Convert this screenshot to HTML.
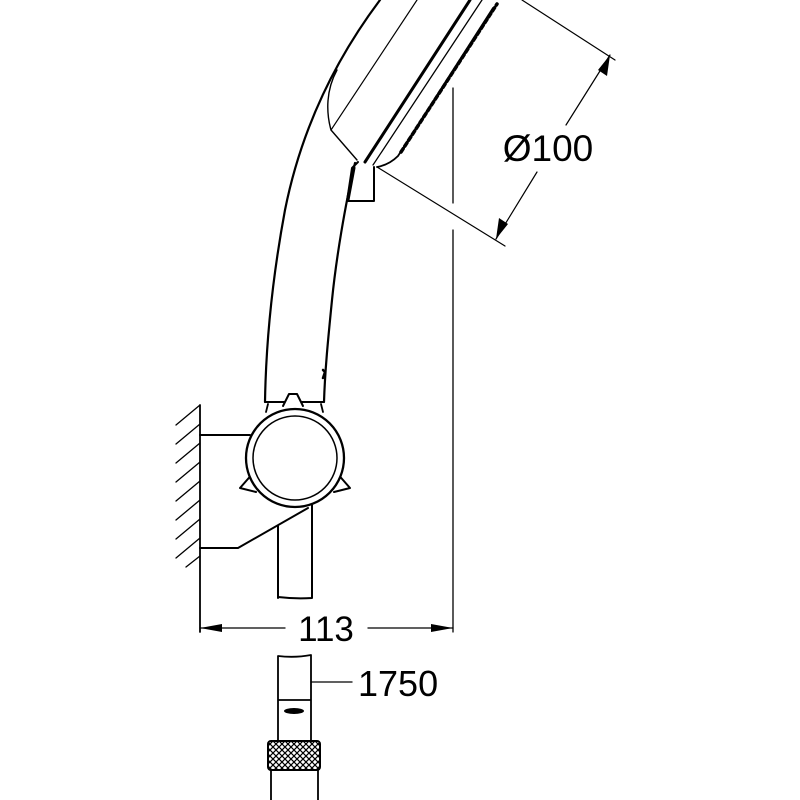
<!DOCTYPE html>
<html><head><style>body{margin:0;background:#fff}svg{display:block}</style></head>
<body>
<svg width="800" height="800" viewBox="0 0 800 800" xmlns="http://www.w3.org/2000/svg" fill="none" stroke="#000" stroke-linecap="round" stroke-linejoin="round">
<defs>
<pattern id="kn" width="6" height="6" patternUnits="userSpaceOnUse">
<path d="M0 0L6 6M6 0L0 6" stroke="#000" stroke-width="1.2"/>
</pattern>
</defs>
<path d="M380 0 C350 40 305 110 285 210 C272 280 266 340 265 402" stroke-width="2.2"/>
<path d="M355 163 C345 205 336 260 332 300 C328 340 325 370 324 402" stroke-width="2.2"/>
<path d="M265 402 L324 402" stroke-width="2"/>
<path d="M268 404 L266 412 M321 404 L323 412" stroke-width="1.8"/>
<path d="M323 370 L325 372 L323 378" stroke-width="2.5"/>
<path d="M337 70 C326 90 326 112 331 130 L357 160" stroke-width="1.4"/>
<path d="M331 130 L417 0" stroke-width="1.2"/>
<path d="M365 162 L470 0" stroke-width="3"/>
<path d="M373 165 L482 0" stroke-width="1.3"/>
<path d="M377 167 C388 165 394 160 398 156 L493 8" stroke-width="1.8"/>
<path d="M401 152 L497 4" stroke="#000" stroke-width="3.5" stroke-dasharray="4 3"/>
<path d="M358 162 L352 168 L347 201 L374 201 L374 167" stroke-width="2"/>
<path d="M354 168 L348 200" stroke-width="3"/>
<path d="M453 88 L453 203 M453 230 L453 632" stroke-width="1.3"/>
<path d="M377 167 L505 246" stroke-width="1.2"/>
<path d="M522 0 L615 60" stroke-width="1.2"/>
<path d="M496 239 L537 172 M566 125 L610 55" stroke-width="1.2"/>
<polygon points="496,239 499,218 508,224" fill="#000" stroke="none"/>
<polygon points="610,55 607,76 598,70" fill="#000" stroke="none"/>
<text x="548" y="161" font-family="Liberation Sans, sans-serif" font-size="37" fill="#000" stroke="none" text-anchor="middle">Ø100</text>
<path d="M200 405 L200 632" stroke-width="1.8"/>
<g stroke-width="1.3">
<path d="M176 425 L200 405 M176 444 L200 424 M176 463 L200 443 M176 482 L200 462 M176 501 L200 481 M176 520 L200 500 M176 539 L200 519 M176 558 L200 538 M186 567 L200 556"/>
</g>
<path d="M200 435 L250 435" stroke-width="2"/>
<path d="M200 548 L238 548 L308 508" stroke-width="2"/>
<path d="M278 526 L278 598 M312 505 L312 598 M278 597 Q295 599 312 598" stroke-width="2"/>
<path d="M283 406 L289 394 L297 394 L303 406" stroke-width="2" fill="#fff"/>
<path d="M254 472 L240 488 L256 492" stroke-width="2"/>
<path d="M336 472 L350 488 L334 492" stroke-width="2"/>
<circle cx="295" cy="458" r="49" stroke-width="2.3" fill="#fff"/>
<circle cx="295" cy="458" r="42" stroke-width="1.5"/>
<path d="M200 628 L285 628 M368 628 L453 628" stroke-width="1.3"/>
<polygon points="200,628 222,624 222,632" fill="#000" stroke="none"/>
<polygon points="453,628 431,624 431,632" fill="#000" stroke="none"/>
<text x="326" y="641" font-family="Liberation Sans, sans-serif" font-size="35" fill="#000" stroke="none" text-anchor="middle">113</text>
<path d="M278 656 Q295 658 311 655 M278 656 L278 742 M311 655 L311 742 M278 700 L311 700" stroke-width="1.8"/>
<ellipse cx="294" cy="711" rx="10" ry="3" fill="#000" stroke="none"/>
<rect x="268" y="741" width="52" height="29" rx="3" fill="url(#kn)" stroke-width="2"/>
<path d="M271 770 L271 800 M318 770 L318 800" stroke-width="1.8"/>
<path d="M311 682 L352 682" stroke-width="1.3"/>
<text x="358" y="696" font-family="Liberation Sans, sans-serif" font-size="36" fill="#000" stroke="none">1750</text>
</svg>
</body></html>
